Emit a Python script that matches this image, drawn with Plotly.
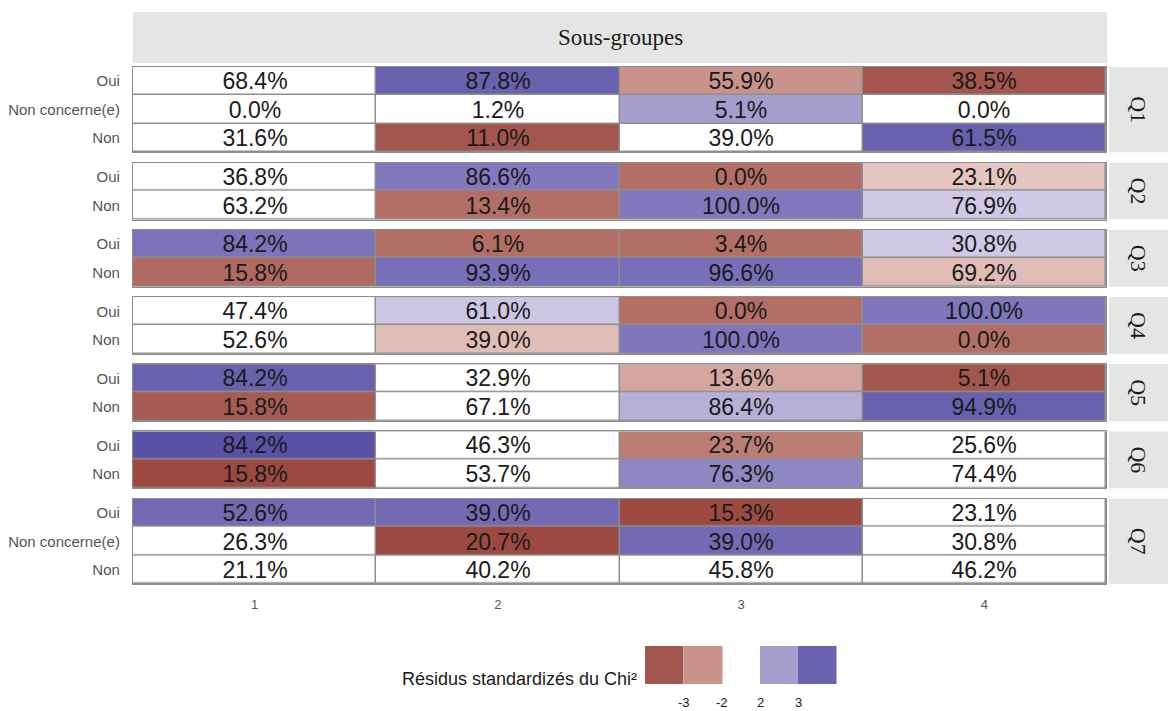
import plotly.graph_objects as go
from plotly.subplots import make_subplots
from plotly.colors import hex_to_rgb

# ---- data -------------------------------------------------------------
questions = ["Q1", "Q2", "Q3", "Q4", "Q5", "Q6", "Q7"]
groups = ["1", "2", "3", "4"]

answers = {
    "Q1": ["Oui", "Non concerne(e)", "Non"],
    "Q2": ["Oui", "Non"],
    "Q3": ["Oui", "Non"],
    "Q4": ["Oui", "Non"],
    "Q5": ["Oui", "Non"],
    "Q6": ["Oui", "Non"],
    "Q7": ["Oui", "Non concerne(e)", "Non"],
}

# column percentages per answer (rows) and sub-group (columns)
percent = {
    "Q1": [[68.4, 87.8, 55.9, 38.5], [0.0, 1.2, 5.1, 0.0], [31.6, 11.0, 39.0, 61.5]],
    "Q2": [[36.8, 86.6, 0.0, 23.1], [63.2, 13.4, 100.0, 76.9]],
    "Q3": [[84.2, 6.1, 3.4, 30.8], [15.8, 93.9, 96.6, 69.2]],
    "Q4": [[47.4, 61.0, 0.0, 100.0], [52.6, 39.0, 100.0, 0.0]],
    "Q5": [[84.2, 32.9, 13.6, 5.1], [15.8, 67.1, 86.4, 94.9]],
    "Q6": [[84.2, 46.3, 23.7, 25.6], [15.8, 53.7, 76.3, 74.4]],
    "Q7": [[52.6, 39.0, 15.3, 23.1], [26.3, 20.7, 39.0, 30.8], [21.1, 40.2, 45.8, 46.2]],
}

# standardized chi-square residuals per cell
residuals = {
    "Q1": [[0.0, 3.0, -2.0, -3.0], [0.0, 0.0, 2.0, 0.0], [0.0, -3.0, 0.0, 3.0]],
    "Q2": [[0.0, 2.5, -2.5, -1.5], [0.0, -2.5, 2.5, 1.5]],
    "Q3": [[2.6, -2.5, -2.5, 1.5], [-2.6, 2.7, 2.7, -1.6]],
    "Q4": [[0.0, 1.55, -2.5, 2.55], [0.0, -1.6, 2.55, -2.5]],
    "Q5": [[3.0, 0.0, -1.8, -3.0], [-2.9, 0.0, 1.8, 3.0]],
    "Q6": [[4.0, 0.0, -2.3, 0.0], [-4.0, 0.0, 2.3, 0.0]],
    "Q7": [[2.8, 2.8, -4.0, 0.0], [0.0, -4.0, 2.8, 0.0], [0.0, 0.0, 0.0, 0.0]],
}

legend_breaks = [-3, -2, 2, 3]
legend_title = "Résidus standardizés du Chi²"
strip_title = "Sous-groupes"

# ---- colour scale ----------------------------------------------------
ZMIN, ZMAX = -5.0, 5.0
scale_stops = [
    (-5.0, "#8f3a30"),
    (-4.0, "#9c4a41"),
    (-3.0, "#a3564d"),
    (-2.5, "#b36f66"),
    (-2.0, "#c9938b"),
    (-1.5, "#e6c6c1"),
    (-1.0, "#ffffff"),
    (1.0, "#ffffff"),
    (1.5, "#d0c9e6"),
    (2.0, "#a59dcc"),
    (2.5, "#8178bd"),
    (3.0, "#6961ad"),
    (4.0, "#5a50a6"),
    (5.0, "#4f45a0"),
]
colorscale = [[(v - ZMIN) / (ZMAX - ZMIN), c] for v, c in scale_stops]


def color_at(v):
    for (v0, c0), (v1, c1) in zip(scale_stops[:-1], scale_stops[1:]):
        if v0 <= v <= v1:
            t = (v - v0) / (v1 - v0)
            a, b = hex_to_rgb(c0), hex_to_rgb(c1)
            return "rgb(%d,%d,%d)" % tuple(round(a[i] + (b[i] - a[i]) * t) for i in range(3))
    return scale_stops[-1][1]


# ---- figure -----------------------------------------------------------
W, H = 1168, 711
ML, MR, MT, MB = 133, 62, 67, 127
plot_w, plot_h = W - ML - MR, H - MT - MB

heights = [len(answers[q]) for q in questions]
fig = make_subplots(
    rows=len(questions), cols=1, shared_xaxes=True,
    row_heights=heights, vertical_spacing=10.3 / plot_h,
)

grid_col = "#8e8e8e"
sans = "Liberation Sans, Arial"
serif = "Liberation Serif, Times New Roman"

for i, q in enumerate(questions, start=1):
    text = [["%.1f%%" % v for v in row] for row in percent[q]]
    fig.add_trace(
        go.Heatmap(
            z=residuals[q], x=groups, y=answers[q],
            coloraxis="coloraxis",
            text=text, texttemplate="%{text}",
            textfont=dict(family=sans, size=23, color="#1a1a1a"),
            xgap=1.5, ygap=1.5, hoverinfo="skip",
        ),
        row=i, col=1,
    )
    fig.update_yaxes(
        type="category", autorange="reversed", automargin=False,
        showgrid=False, zeroline=False,
        showline=True, mirror=True, linecolor=grid_col, linewidth=1.2,
        ticks="", ticklabelstandoff=9,
        tickfont=dict(family=sans, size=15, color="#555555"),
        row=i, col=1,
    )
    fig.update_xaxes(
        type="category", range=[-0.5, 3.5], automargin=False,
        showgrid=False, zeroline=False,
        showline=True, mirror=True, linecolor=grid_col, linewidth=1.2,
        ticks="", ticklabelstandoff=8,
        tickfont=dict(family=sans, size=13, color="#555555"),
        row=i, col=1,
    )

    # right-hand facet strip
    dom = fig.layout["yaxis%s" % ("" if i == 1 else i)].domain
    x0 = (1109 - ML) / plot_w
    x1 = (W - ML) / plot_w
    fig.add_shape(type="rect", xref="paper", yref="paper",
                  x0=x0, x1=x1, y0=dom[0], y1=dom[1],
                  fillcolor="#e5e5e5", line_width=0, layer="below")
    fig.add_annotation(text=q, xref="paper", yref="paper",
                       x=(x0 + x1) / 2, y=(dom[0] + dom[1]) / 2,
                       xanchor="center", yanchor="middle",
                       textangle=90, showarrow=False,
                       font=dict(family=serif, size=22, color="#1a1a1a"))

# top strip
top0 = 1 + (MT - 63) / plot_h
top1 = 1 + (MT - 12) / plot_h
fig.add_shape(type="rect", xref="paper", yref="paper",
              x0=0, x1=(1107 - ML) / plot_w, y0=top0, y1=top1,
              fillcolor="#e5e5e5", line_width=0, layer="below")
fig.add_annotation(text=strip_title, xref="paper", yref="paper",
                   x=(1107 - ML) / plot_w / 2, y=(top0 + top1) / 2,
                   xanchor="center", yanchor="middle", showarrow=False,
                   font=dict(family=serif, size=23, color="#1a1a1a"))

# discrete legend of residual classes
px = lambda v: (v - ML) / plot_w
py = lambda v: (H - MB - v) / plot_h
key_w = 38.5
key_left = {-3: 645, -2: 684, 2: 760, 3: 798}
for b in legend_breaks:
    left = key_left[b]
    fig.add_shape(type="rect", xref="paper", yref="paper",
                  x0=px(left), x1=px(left + key_w), y0=py(684), y1=py(646),
                  fillcolor=color_at(float(b)), line_width=0)
label_x = {-3: 684, -2: 722, 2: 760, 3: 798}
for b in legend_breaks:
    fig.add_annotation(text=str(b), xref="paper", yref="paper",
                       x=px(label_x[b]), y=py(702), showarrow=False,
                       xanchor="center", yanchor="middle",
                       font=dict(family=sans, size=13, color="#1a1a1a"))
fig.add_annotation(text=legend_title, xref="paper", yref="paper",
                   x=px(639), y=py(679), xanchor="right", yanchor="middle",
                   showarrow=False,
                   font=dict(family=sans, size=18, color="#1a1a1a"))

fig.update_layout(
    width=W, height=H,
    margin=dict(l=ML, r=MR, t=MT, b=MB, autoexpand=False),
    paper_bgcolor="white", plot_bgcolor=grid_col,
    coloraxis=dict(colorscale=colorscale, cmin=ZMIN, cmax=ZMAX, showscale=False),
    showlegend=False,
)

fig.write_html("out.html")
